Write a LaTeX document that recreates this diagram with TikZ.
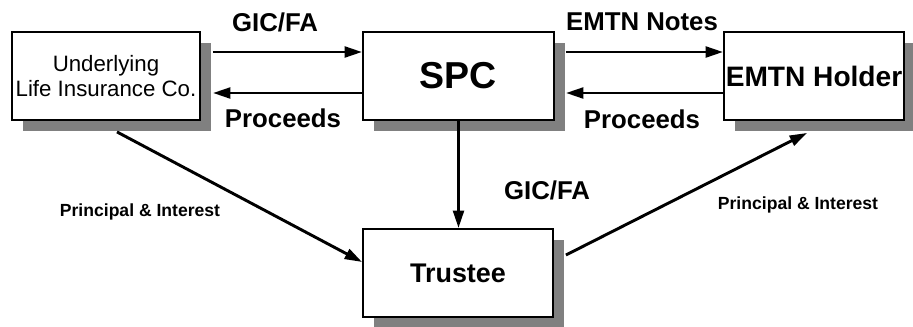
\documentclass[tikz,border=0pt]{standalone}
\usepackage{fontspec}
\setmainfont{Liberation Sans}
\usetikzlibrary{arrows.meta,shadows}

\begin{document}
\begin{tikzpicture}[x=0.3mm,y=0.3mm,
  party/.style={draw,line width=1.6pt,fill=white,minimum height=26.4mm,inner sep=0pt,align=center,
    drop shadow={shadow xshift=3.4mm,shadow yshift=-3.2mm,fill=black!50,opacity=1}},
  flow/.style={line width=2.5pt,-{Triangle[length=5.2mm,width=3.2mm]}},
  lab/.style={font=\bfseries\fontsize{22}{24}\selectfont},
  small/.style={font=\bfseries\fontsize{15}{17}\selectfont}]
\useasboundingbox (0,0) rectangle (913,326);
% the four parties
\node[party,minimum width=56.4mm,font=\fontsize{19}{21}\selectfont] (life) at (106,250) {Underlying\\Life Insurance Co.};
\node[party,minimum width=57.3mm,font=\bfseries\fontsize{32}{34}\selectfont] (spc) at (458.5,250) {SPC};
\node[party,minimum width=54mm,font=\bfseries\fontsize{24}{26}\selectfont] (holder) at (814,250) {EMTN Holder};
\node[party,minimum width=57mm,font=\bfseries\fontsize{23}{25}\selectfont] (trustee) at (458,53) {Trustee};
% flows on top
\draw[flow] ([xshift=3.6mm,yshift=7.2mm]life.east) -- ([yshift=7.2mm]spc.west);
\draw[flow] ([yshift=-5.1mm]spc.west) -- ([xshift=3.6mm,yshift=-5.1mm]life.east);
\draw[flow] ([xshift=3.3mm,yshift=7.2mm]spc.east) -- ([yshift=7.2mm]holder.west);
\draw[flow] ([yshift=-5.1mm]holder.west) -- ([xshift=3.3mm,yshift=-5.1mm]spc.east);
% flows through the trustee
\draw[flow] (spc.south) -- (spc.south |- trustee.north);
\draw[flow] ([xshift=3.3mm,yshift=-3.3mm]life.south) -- ([yshift=3.3mm]trustee.west);
\draw[flow] ([xshift=3.6mm,yshift=5.4mm]trustee.east) -- ([xshift=-2.1mm,yshift=-3.6mm]holder.south);
% labels
\node[lab] (gicTop) at (275,304) {GIC/FA};
\node[lab] (procLeft) at (283,208) {Proceeds};
\node[lab] (notes) at (642,304) {EMTN Notes};
\node[lab] (procRight) at (642,207) {Proceeds};
\node[lab] (gicMid) at (547,136) {GIC/FA};
\node[small] (piLeft) at (140,114) {Principal \& Interest};
\node[small] (piRight) at (798,121) {Principal \& Interest};
\end{tikzpicture}
\end{document}
